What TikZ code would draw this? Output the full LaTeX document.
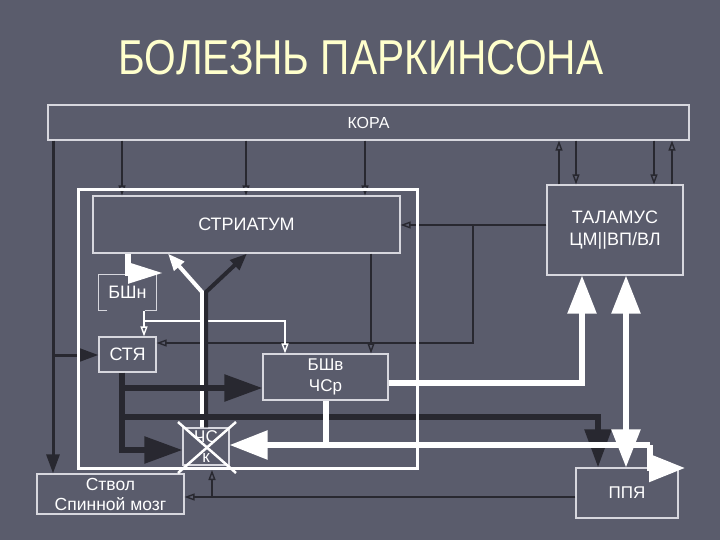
\documentclass[tikz,border=0pt]{standalone}
\usepackage{fontspec}
\usepackage{graphicx}
\setmainfont{Liberation Sans}
\usetikzlibrary{arrows.meta}
\definecolor{bg}{RGB}{90,92,108}
\definecolor{dk}{RGB}{40,40,48}
\definecolor{bd}{RGB}{215,215,222}
\definecolor{ttl}{RGB}{255,255,204}
\begin{document}
\begin{tikzpicture}[x=1pt,y=-1pt,
  box/.style={draw=bd, line width=1.2pt, fill=bg, text=white, inner sep=0pt, align=center,
    font=\fontsize{17}{21}\selectfont},
  dkthin/.style={draw=dk, line width=1.4pt},
  dkarr/.style={dkthin, -{Triangle[open, length=10pt, width=7pt]}},
  dkmid/.style={draw=dk, line width=3pt},
  dkmidarr/.style={dkmid, -{Triangle[length=19pt, width=13pt]}},
  wthin/.style={draw=white, line width=1.4pt},
  wthinarr/.style={wthin, -{Triangle[open, length=10pt, width=7pt]}},
  wfork/.style={draw=white, line width=4pt, -{Triangle[length=17pt, width=13pt]}},
  dkfork/.style={draw=dk, line width=4pt, -{Triangle[length=17pt, width=13pt]}},
  dkthick/.style={draw=dk, line width=5.5pt},
  dkbig/.style={dkthick, -{Triangle[length=38pt, width=26pt]}},
  wthick/.style={draw=white, line width=5.5pt},
  wbig/.style={wthick, -{Triangle[length=38pt, width=28pt]}},
]
\fill[bg] (0,0) rectangle (720,540);
\useasboundingbox (0,0) rectangle (720,540);

\node[text=ttl, font=\fontsize{49}{52}\selectfont] (title) at (361,58)
  {\scalebox{0.83}[1]{БОЛЕЗНЬ ПАРКИНСОНА}};

% boxes
\node[box, minimum width=641pt, minimum height=35pt, font=\fontsize{16}{19}\selectfont] (kora) at (368.5,122.5) {КОРА};
\node[box, minimum width=307pt, minimum height=57pt, font=\fontsize{18}{21}\selectfont] (stria) at (246.5,224.5) {СТРИАТУМ};
\node[box, minimum width=136pt, minimum height=90pt, font=\fontsize{18}{22}\selectfont] (thal) at (615,230) {ТАЛАМУС\\ЦМ||ВП/ВЛ};
\node[box, draw=none, minimum width=57pt, minimum height=35pt, font=\fontsize{18}{21}\selectfont] (bshn) at (127.5,292.5) {БШн};
\draw[bd, line width=1.2pt] ([xshift=9pt]bshn.south west) -- (bshn.south west) -- (bshn.north west)
  -- (bshn.north east) -- (bshn.south east) -- ([xshift=-12pt]bshn.south east);
\node[box, minimum width=57pt, minimum height=35pt, font=\fontsize{18}{21}\selectfont] (stya) at (127.5,354.5) {СТЯ};
\node[box, minimum width=125pt, minimum height=46pt, font=\fontsize{17}{21}\selectfont] (bshv) at (325.5,377) {БШв\\ЧСр};
\node[box, minimum width=46pt, minimum height=37pt, font=\fontsize{17}{20}\selectfont] (chs) at (206,446.5) {ЧС\\к};
\node[box, minimum width=147pt, minimum height=40pt, font=\fontsize{17.5}{20}\selectfont] (stvol) at (110.5,494) {Ствол\\Спинной мозг};
\node[box, minimum width=102pt, minimum height=50pt, font=\fontsize{17}{20}\selectfont] (ppya) at (627,493) {ППЯ};

% thin dark connectors
\draw[dkarr] (kora.south -| 122,0) -- (stria.north -| 122,0);
\draw[dkarr] (kora.south -| 246,0) -- (stria.north -| 246,0);
\draw[dkarr] (kora.south -| 365,0) -- (stria.north -| 365,0);
\draw[dkarr] (thal.north -| 559,0) -- (kora.south -| 559,0);
\draw[dkarr] (kora.south -| 576,0) -- (thal.north -| 576,0);
\draw[dkarr] (kora.south -| 654,0) -- (thal.north -| 654,0);
\draw[dkarr] (thal.north -| 672,0) -- (kora.south -| 672,0);
\draw[dkarr] (thal.west |- 0,225) -- (stria.east |- 0,225);
\draw[dkarr] (473,225) -- (473,343) -- (stya.east |- 0,343);
\draw[dkarr] (stria.south -| 371,0) -- (bshv.north -| 371,0);
\draw[dkarr] (ppya.west |- 0,497) -- (stvol.east |- 0,497);
\draw[dkarr] (212,497) -- (212,470);
\draw[dkmidarr] (kora.south -| 53,0) -- (stvol.north -| 53,0);
\draw[dkmidarr] (53,355) -- (stya.west |- 0,355);

% thin white connectors
\draw[wthinarr] (bshn.south -| 144,0) -- (stya.north -| 144,0);
\draw[wthinarr] (144,321) -- (285,321) -- (bshv.north -| 285,0);

% nigro-striatal fork
\draw[wfork] (chs.north -| 202,0) -- (202,292) -- (stria.south -| 168,0);
\draw[dkfork] (chs.north -| 206,0) -- (206,292) -- (stria.south -| 247,0);

% thick white from striatum
\draw[wthick, -{Triangle[length=35pt, width=20pt]}] (stria.south -| 128,0) -- (128,273) -- (163,273);

% thick dark from STN
\draw[dkbig] (stya.south -| 122,0) -- (122,450) -- (chs.west |- 0,450);
\draw[dkbig] (122,388) -- (bshv.west |- 0,388);
\draw[dkbig] (122,417) -- (598,417) -- (ppya.north -| 598,0);

% thick white outputs
\draw[wbig] (bshv.east |- 0,383) -- (582,383) -- (thal.south -| 582,0);
\draw[wthick, {Triangle[length=38pt, width=28pt]}-{Triangle[length=38pt, width=28pt]}] (thal.south -| 626,0) -- (ppya.north -| 626,0);
\draw[wthick] (bshv.south -| 326,0) -- (326,445);
\draw[wbig] (650,445) -- (chs.east |- 0,445);
\draw[wthick, -{Triangle[length=36pt, width=27pt]}] (650,445) -- (650,468) -- (685,468);

% basal ganglia frame
\draw[white, line width=3pt] (78,190) rectangle (417,468);

% degeneration cross over SNc
\draw[white, line width=2.5pt] (178,422) -- (236,473);
\draw[white, line width=2.5pt] (236,422) -- (178,473);
\end{tikzpicture}
\end{document}
